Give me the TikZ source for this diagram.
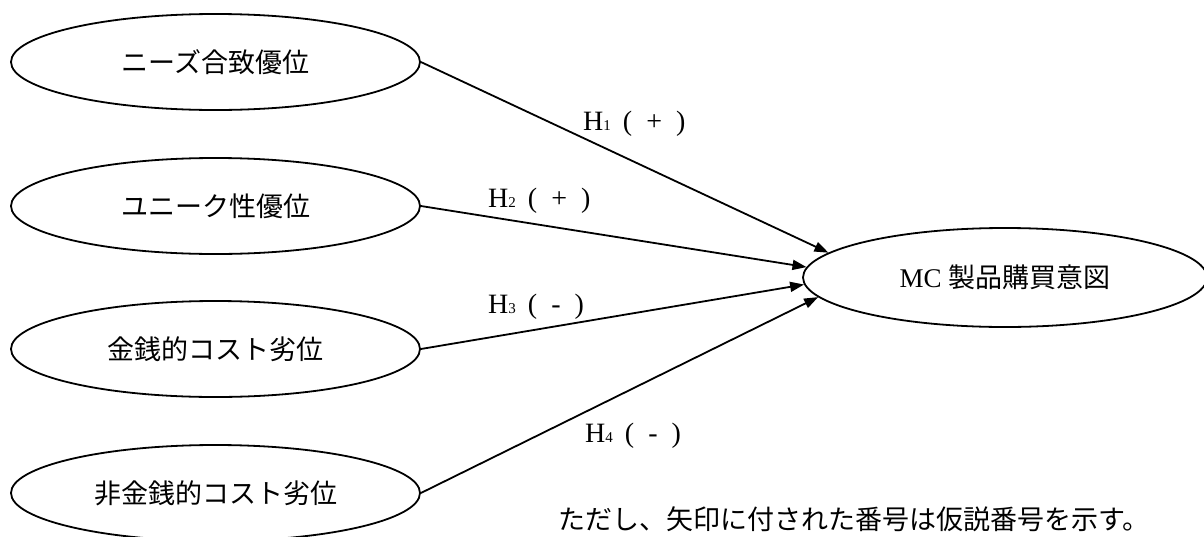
\documentclass[tikz,border=0pt]{standalone}
\usepackage{fontspec}
\setmainfont{Liberation Serif}
\newfontfamily\jp{Noto Sans CJK JP}
\usetikzlibrary{shapes.geometric,arrows.meta}
\tikzset{
  ell/.style={ellipse, draw, line width=1.8pt, minimum width=409pt, minimum height=96pt, inner sep=0pt,
    font=\jp\fontsize{27}{30}\selectfont},
  conn/.style={line width=1.8pt, -{Triangle[length=14pt,width=10pt]}},
  hlab/.style={anchor=base west, inner sep=0pt, font=\fontsize{28}{30}\selectfont},
}
\newcommand{\hyp}[2]{H{\fontsize{15}{15}\selectfont #1}\hspace{12pt}(\hspace{14pt}#2\hspace{14pt})}
\begin{document}
\begin{tikzpicture}[x=1pt,y=-1pt]
\useasboundingbox (0,0) rectangle (1204,536);
\node[ell] (n1) at (215.5,62) {ニーズ合致優位};
\node[ell] (n2) at (215.5,206) {ユニーク性優位};
\node[ell] (n3) at (215.5,349) {金銭的コスト劣位};
\node[ell] (n4) at (215.5,493) {非金銭的コスト劣位};
\node[ell, minimum width=404pt, minimum height=99pt, font=\fontsize{27}{30}\selectfont] (mc) at (1005,277.5) {MC {\jp 製品購買意図}};
\draw[conn] (n1.east) -- (mc.172.9);
\draw[conn] (n2.east) -- (mc.177.1);
\draw[conn] (n3.east) -- (mc.182.6);
\draw[conn] (n4.east) -- (mc.186.1);
\node[hlab] (h1) at (583,130) {\hyp{1}{+}};
\node[hlab] (h2) at (488,207) {\hyp{2}{+}};
\node[hlab] (h3) at (488,313) {\hyp{3}{-}};
\node[hlab] (h4) at (585,442) {\hyp{4}{-}};
\node[anchor=base west, inner sep=0pt, font=\jp\fontsize{27}{30}\selectfont] (note) at (558,529) {ただし、矢印に付された番号は仮説番号を示す。};
\end{tikzpicture}
\end{document}
